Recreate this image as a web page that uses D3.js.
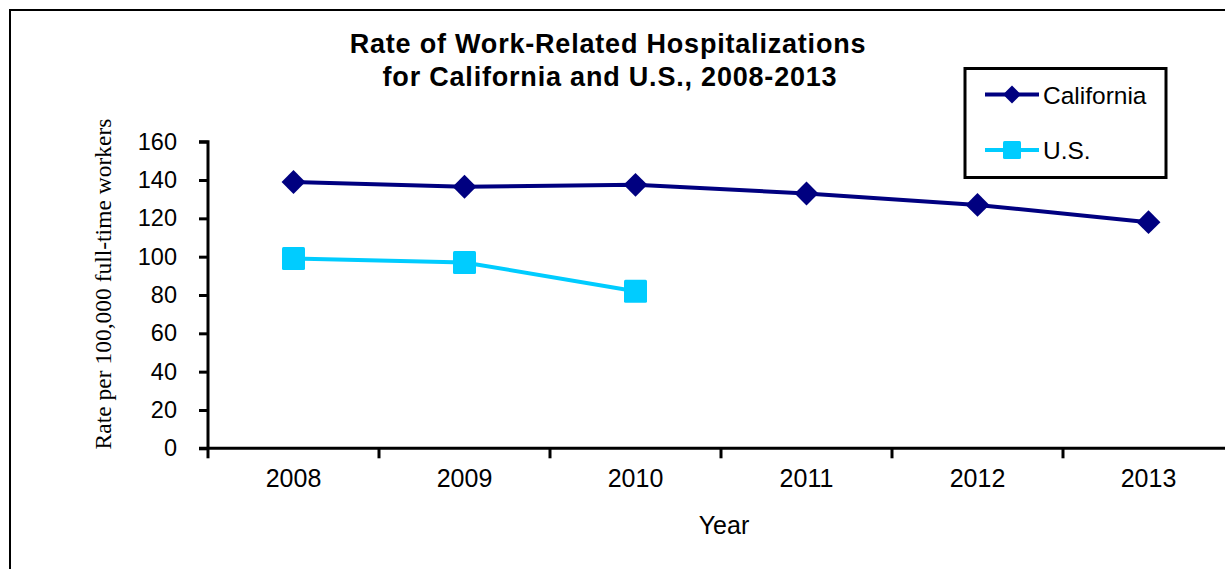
<!DOCTYPE html>
<html>
<head>
<meta charset="utf-8">
<script src="https://cdn.jsdelivr.net/npm/d3@7"></script>
<style>
  body { margin: 0; background: #fff; }
  svg { display: block; }
</style>
</head>
<body>
<svg width="1225" height="569"></svg>
<script>
// Chart data
var years = ['2008', '2009', '2010', '2011', '2012', '2013'];
var california = [139, 136.5, 137.5, 133, 127, 118];
var us = [99, 97, 82];
var yTicks = [0, 20, 40, 60, 80, 100, 120, 140, 160];

var svg = d3.select('svg');

// Outer frame (right and bottom edges fall outside the picture)
svg.append('rect')
    .attr('x', 10).attr('y', 10)
    .attr('width', 1240).attr('height', 600)
    .attr('fill', 'none').attr('stroke', '#000').attr('stroke-width', 2);

var x = d3.scaleBand().domain(years).range([208, 1234]);
var y = d3.scaleLinear().domain([0, 160]).range([448.3, 141.7]);

var font = 'Liberation Sans, Arial, sans-serif';

// Title
var title = svg.append('text')
    .attr('text-anchor', 'middle')
    .attr('font-family', font)
    .attr('font-weight', 'bold')
    .attr('font-size', 27)
    .attr('letter-spacing', 0.8);
title.append('tspan').attr('x', 608).attr('y', 53).text('Rate of Work-Related Hospitalizations');
title.append('tspan').attr('x', 610).attr('y', 86).text('for California and U.S., 2008-2013');

// Y axis
var yAxis = svg.append('g')
    .attr('transform', 'translate(208,0)')
    .call(d3.axisLeft(y).tickValues(yTicks).tickSize(9).tickPadding(22));
yAxis.select('.domain').attr('stroke-width', 3).attr('d', 'M-9,' + y(160) + 'H0V' + y(0));
yAxis.selectAll('.tick line').attr('stroke-width', 3);
yAxis.selectAll('.tick text')
    .attr('font-family', font).attr('font-size', 23.5).attr('fill', '#000');

// X axis line and boundary ticks
svg.append('line')
    .attr('x1', 199).attr('x2', 1240)
    .attr('y1', y(0)).attr('y2', y(0))
    .attr('stroke', '#000').attr('stroke-width', 3);

var bounds = years.map(function(d) { return x(d); }).concat([x(years[years.length - 1]) + x.bandwidth()]);
svg.selectAll('.xtick')
    .data(bounds)
    .enter().append('line')
    .attr('class', 'xtick')
    .attr('x1', function(d) { return d; }).attr('x2', function(d) { return d; })
    .attr('y1', y(0)).attr('y2', y(0) + 10)
    .attr('stroke', '#000').attr('stroke-width', 3);

svg.selectAll('.xlabel')
    .data(years)
    .enter().append('text')
    .attr('class', 'xlabel')
    .attr('x', function(d) { return x(d) + x.bandwidth() / 2; })
    .attr('y', 487)
    .attr('text-anchor', 'middle')
    .attr('font-family', font).attr('font-size', 25)
    .text(function(d) { return d; });

// Axis titles
svg.append('text')
    .attr('x', 724).attr('y', 534)
    .attr('text-anchor', 'middle')
    .attr('font-family', font).attr('font-size', 25)
    .text('Year');

svg.append('text')
    .attr('transform', 'translate(111,284) rotate(-90)')
    .attr('text-anchor', 'middle')
    .attr('font-family', 'Liberation Serif, Times New Roman, serif')
    .attr('font-size', 23.5)
    .text('Rate per 100,000 full-time workers');

// Lines
var line = d3.line()
    .x(function(d, i) { return x(years[i]) + x.bandwidth() / 2; })
    .y(function(d) { return y(d); });

var caColor = '#000080';
var usColor = '#00CCFF';

svg.append('path').datum(california)
    .attr('d', line).attr('fill', 'none')
    .attr('stroke', caColor).attr('stroke-width', 4);
svg.append('path').datum(us)
    .attr('d', line).attr('fill', 'none')
    .attr('stroke', usColor).attr('stroke-width', 4);

var diamond = d3.symbol().type(d3.symbolSquare).size(285);

svg.selectAll('.ca')
    .data(california)
    .enter().append('path')
    .attr('class', 'ca')
    .attr('d', diamond)
    .attr('transform', function(d, i) {
        return 'translate(' + (x(years[i]) + x.bandwidth() / 2) + ',' + y(d) + ') rotate(45)';
    })
    .attr('fill', caColor);

svg.selectAll('.us')
    .data(us)
    .enter().append('rect')
    .attr('class', 'us')
    .attr('x', function(d, i) { return x(years[i]) + x.bandwidth() / 2 - 11.5; })
    .attr('y', function(d) { return y(d) - 11.5; })
    .attr('width', 23).attr('height', 23)
    .attr('rx', 1.5)
    .attr('fill', usColor);

// Legend
svg.append('rect')
    .attr('x', 965).attr('y', 68.5)
    .attr('width', 201).attr('height', 109)
    .attr('fill', '#fff').attr('stroke', '#000').attr('stroke-width', 3);

var legend = [
    {name: 'California', color: caColor, y: 94.5, shape: 'diamond'},
    {name: 'U.S.', color: usColor, y: 150, shape: 'square'}
];

var lg = svg.selectAll('.legend')
    .data(legend)
    .enter().append('g')
    .attr('class', 'legend')
    .attr('transform', function(d) { return 'translate(0,' + d.y + ')'; });

lg.append('line')
    .attr('x1', 985).attr('x2', 1039)
    .attr('stroke', function(d) { return d.color; })
    .attr('stroke-width', 4);

lg.filter(function(d) { return d.shape === 'diamond'; })
    .append('path')
    .attr('d', d3.symbol().type(d3.symbolSquare).size(160))
    .attr('transform', 'translate(1012,0) rotate(45)')
    .attr('fill', function(d) { return d.color; });

lg.filter(function(d) { return d.shape === 'square'; })
    .append('rect')
    .attr('x', 1003).attr('y', -9)
    .attr('width', 18).attr('height', 18).attr('rx', 1.5)
    .attr('fill', function(d) { return d.color; });

lg.append('text')
    .attr('x', 1043).attr('y', 9)
    .attr('font-family', font).attr('font-size', 24.5)
    .text(function(d) { return d.name; });
</script>
</body>
</html>
